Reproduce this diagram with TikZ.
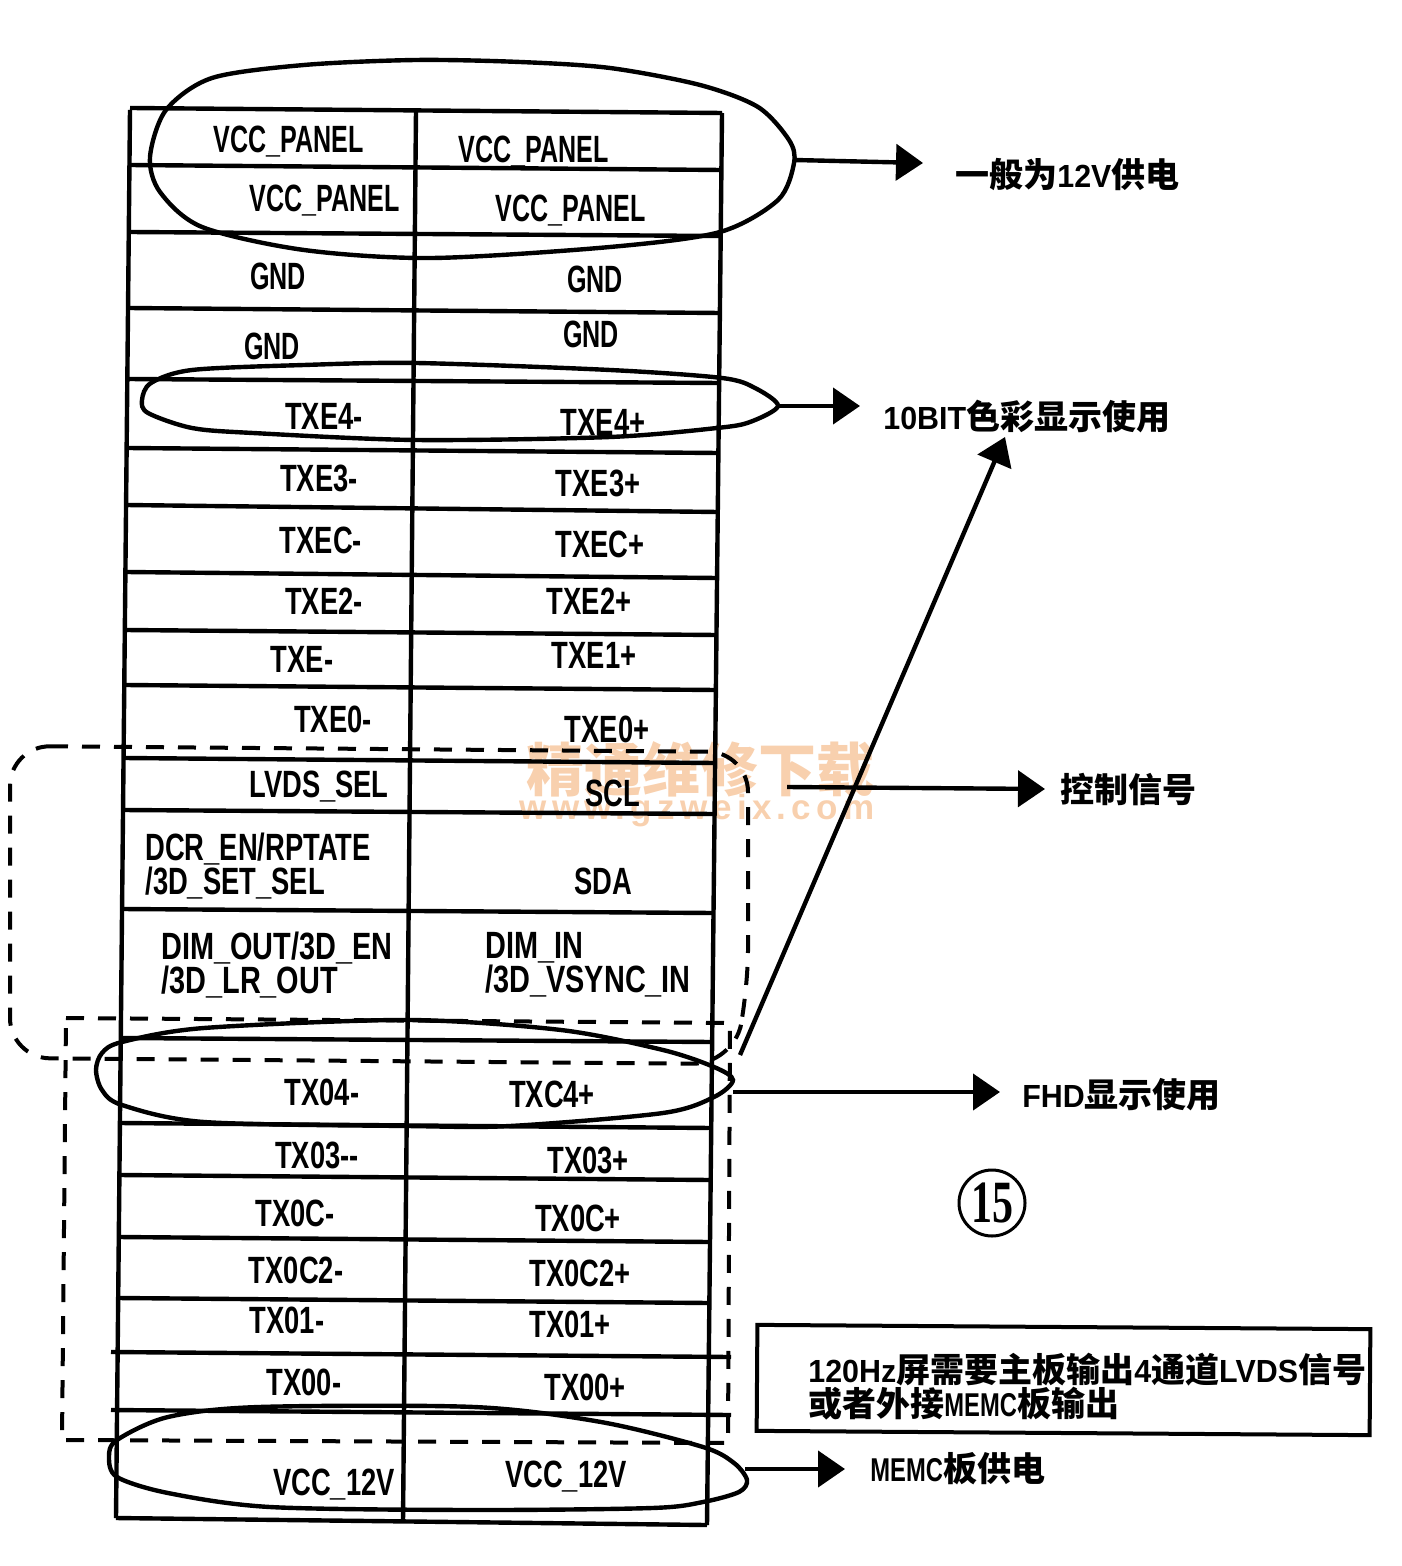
\documentclass[tikz,border=0pt]{standalone}
\usepackage{fontspec}
\usepackage{tikz}
\usetikzlibrary{arrows.meta}
\newfontfamily\pinfont[FakeStretch=0.72]{Liberation Sans Bold}
\newfontfamily\narrowfont[FakeStretch=0.66]{Liberation Sans Bold}
\newfontfamily\widefont[FakeStretch=0.76]{Liberation Sans Bold}
\newfontfamily\latfont[FakeStretch=0.95]{Liberation Sans Bold}
\newfontfamily\wwwfont[LetterSpace=15]{Liberation Sans Bold}
\newfontfamily\cjkfont{Noto Sans CJK SC}
\newfontfamily\roundfont[FakeStretch=0.7]{Liberation Serif Bold}
\newcommand{\lat}[1]{{\latfont\fontsize{16}{17}\selectfont #1}}
\newcommand{\latn}[1]{{\pinfont\fontsize{16.5}{17}\selectfont #1}}
\definecolor{wmorange}{HTML}{F8D0AE}
\tikzset{
	pinlabel/.style={inner sep=0pt, font=\pinfont\fontsize{19}{17}\selectfont, align=left},
	narrowlabel/.style={inner sep=0pt, font=\narrowfont\fontsize{19}{17}\selectfont, align=left},
	widelabel/.style={inner sep=0pt, anchor=west, font=\widefont\fontsize{19}{17}\selectfont, align=left},
	cjklabel/.style={inner sep=0pt, anchor=west, font=\cjkfont\bfseries\fontsize{17}{17}\selectfont, align=left},
	rowline/.style={line width=2.2pt},
	ring/.style={line width=2.2pt},
	dashbox/.style={line width=2pt, dash pattern=on 9pt off 7pt},
	callout/.style={line width=2.2pt, -{Triangle[length=13.5pt,width=18pt]}}
}
\begin{document}
\begin{tikzpicture}[x=0.5pt, y=-0.5pt]
	\useasboundingbox (0, 0) rectangle (1401, 1566);

	\node[color=wmorange, font=\cjkfont\bfseries\fontsize{29}{29}\selectfont, inner sep=0pt] at (700, 770) (wmname) {精通维修下载};
	\node[color=wmorange, font=\wwwfont\fontsize{17.5}{17.5}\selectfont, inner sep=0pt] at (697, 811) (wmsite) {www.gzweix.com};

	\draw[rowline] (130, 110) -- (116, 1518);
	\draw[rowline] (416, 110) -- (403, 1522);
	\draw[rowline] (722, 113) -- (707, 1525);

	\draw[rowline] (130, 108) -- (722, 113);
	\draw[rowline] (129, 165) -- (721, 170);
	\draw[rowline] (129, 232) -- (720, 236);
	\draw[rowline] (128, 308) -- (720, 313);
	\draw[rowline] (127, 379) -- (719, 383);
	\draw[rowline] (127, 448) -- (718, 453);
	\draw[rowline] (126, 505) -- (718, 512);
	\draw[rowline] (126, 572) -- (717, 578);
	\draw[rowline] (125, 630) -- (717, 635);
	\draw[rowline] (125, 685) -- (716, 690);
	\draw[rowline] (124, 758) -- (715, 763);
	\draw[rowline] (123, 810) -- (715, 814);
	\draw[rowline] (122, 909) -- (714, 913);
	\draw[rowline] (121, 1038) -- (713, 1042);
	\draw[rowline] (120, 1123) -- (712, 1128);
	\draw[rowline] (120, 1175) -- (711, 1180);
	\draw[rowline] (119, 1237) -- (710, 1242);
	\draw[rowline] (118, 1298) -- (710, 1303);
	\draw[rowline] (111, 1352) -- (731, 1357);
	\draw[rowline] (111, 1410) -- (731, 1415);
	\draw[rowline] (116, 1518) -- (707, 1525);

	\node[narrowlabel] at (289, 142) (vccl1) {VCC\_PANEL};
	\node[narrowlabel] at (534, 152) (vccr1) {VCC\_PANEL};
	\node[narrowlabel] at (325, 201) (vccl2) {VCC\_PANEL};
	\node[narrowlabel] at (571, 211) (vccr2) {VCC\_PANEL};
	\node[narrowlabel] at (278, 276) (gndl1) {GND};
	\node[narrowlabel] at (595, 279) (gndr1) {GND};
	\node[narrowlabel] at (272, 346) (gndl2) {GND};
	\node[narrowlabel] at (591, 334) (gndr2) {GND};
	\node[pinlabel] at (324, 416) (txel4) {TXE4-};
	\node[pinlabel] at (603, 422) (txer4) {TXE4+};
	\node[pinlabel] at (319, 478) (txel3) {TXE3-};
	\node[pinlabel] at (598, 483) (txer3) {TXE3+};
	\node[pinlabel] at (321, 540) (txelc) {TXEC-};
	\node[pinlabel] at (600, 544) (txerc) {TXEC+};
	\node[pinlabel] at (324, 601) (txel2) {TXE2-};
	\node[pinlabel] at (589, 601) (txer2) {TXE2+};
	\node[pinlabel] at (302, 659) (txel1) {TXE-};
	\node[pinlabel] at (594, 655) (txer1) {TXE1+};
	\node[pinlabel] at (333, 719) (txel0) {TXE0-};
	\node[pinlabel] at (607, 729) (txer0) {TXE0+};

	\node[pinlabel] at (319, 787) (lvds) {LVDS\_SEL};
	\node[pinlabel] at (613, 793) (scl) {SCL};
	\node[pinlabel, anchor=west] at (145, 866) (dcr) {DCR\_EN/RPTATE\\/3D\_SET\_SEL};
	\node[pinlabel] at (603, 881) (sda) {SDA};
	\node[widelabel] at (161, 965) (dimout) {DIM\_OUT/3D\_EN\\/3D\_LR\_OUT};
	\node[widelabel] at (485, 965) (dimin) {DIM\_IN\\/3D\_VSYNC\_IN};

	\node[pinlabel] at (322, 1092) (txol4) {TX04-};
	\node[pinlabel] at (552, 1094) (txor4) {TXC4+};
	\node[pinlabel] at (317, 1155) (txol3) {TX03--};
	\node[pinlabel] at (588, 1160) (txor3) {TX03+};
	\node[pinlabel] at (295, 1213) (txolc) {TX0C-};
	\node[pinlabel] at (578, 1218) (txorc) {TX0C+};
	\node[pinlabel] at (296, 1270) (txol2) {TX0C2-};
	\node[pinlabel] at (580, 1273) (txor2) {TX0C2+};
	\node[pinlabel] at (287, 1320) (txol1) {TX01-};
	\node[pinlabel] at (570, 1324) (txor1) {TX01+};
	\node[pinlabel] at (304, 1382) (txol0) {TX00-};
	\node[pinlabel] at (585, 1387) (txor0) {TX00+};
	\node[pinlabel] at (334, 1485) (vcc12l) {VCC\_12V};
	\node[pinlabel] at (566, 1477) (vcc12r) {VCC\_12V};

	\draw[ring] plot[smooth cycle] coordinates {(150,157) (166,110) (212,78) (304,65) (416,60) (520,62) (610,68) (700,85) (758,107) (789,140) (794,163) (778,200) (720,232) (610,247) (432,258) (304,250) (202,227) (160,192)};
	\draw[ring] plot[smooth cycle] coordinates {(142,400) (151,383) (192,370) (304,365) (416,363) (610,370) (722,378) (755,388) (778,406) (750,422) (717,428) (610,437) (416,440) (253,433) (192,428) (148,413)};
	\draw[ring] plot[smooth cycle] coordinates {(96,1070) (102,1053) (122,1042) (204,1028) (408,1020) (561,1030) (663,1050) (714,1067) (733,1080) (714,1097) (663,1113) (510,1126) (408,1126) (204,1122) (122,1105) (102,1090)};
	\draw[ring] plot[smooth cycle] coordinates {(109,1457) (117,1440) (168,1417) (259,1407) (474,1407) (601,1422) (703,1447) (734,1463) (747,1480) (739,1492) (703,1502) (652,1508) (474,1510) (270,1507) (168,1493) (117,1477)};

	\draw[dashbox, rounded corners=20pt] (10, 746) -- (748, 752) -- (748, 990) -- (733, 1064) -- (10, 1058) -- cycle;
	\draw[dashbox] (66, 1018) -- (730, 1023) -- (728, 1443) -- (62, 1440) -- cycle;

	\coordinate (panelstart) at (794, 160);
	\coordinate (panelend) at (923, 163);
	\coordinate (txestart) at (778, 406);
	\coordinate (txeend) at (860, 406);
	\coordinate (ctrlstart) at (787, 787);
	\coordinate (ctrlend) at (1045, 789);
	\coordinate (fhdstart) at (733, 1092);
	\coordinate (fhdend) at (1000, 1092);
	\coordinate (memcstart) at (745, 1469);
	\coordinate (memcend) at (845, 1469);
	\coordinate (slantstart) at (740, 1055);
	\coordinate (slantend) at (1005, 437);

	\draw[callout] (panelstart) -- (panelend);
	\draw[callout] (txestart) -- (txeend);
	\draw[callout] (ctrlstart) -- (ctrlend);
	\draw[callout] (fhdstart) -- (fhdend);
	\draw[callout] (memcstart) -- (memcend);
	\draw[callout] (slantstart) -- (slantend);

	\node[cjklabel] at (955, 175) (panelnote) {一般为\lat{12V}供电};
	\node[cjklabel] at (883, 417) (txenote) {\lat{10BIT}色彩显示使用};
	\node[cjklabel] at (1060, 790) (ctrlnote) {控制信号};
	\node[cjklabel] at (1022, 1095) (fhdnote) {\lat{FHD}显示使用};
	\node[cjklabel] at (870, 1469) (memcnote) {\latn{MEMC}板供电};

	\node[draw, circle, line width=1.5pt, minimum size=33pt, inner sep=0pt, font=\roundfont\fontsize{30}{30}\selectfont] at (992, 1203) (fifteen) {15};

	\node[draw, line width=2pt, rotate=-0.4, minimum width=306.5pt, minimum height=53pt] at (1063.5, 1380) (notebox) {};
	\node[cjklabel] at (808, 1387) (notetext) {\lat{120Hz}屏需要主板输出\lat{4}通道\lat{LVDS}信号\\或者外接\latn{MEMC}板输出};
\end{tikzpicture}
\end{document}
